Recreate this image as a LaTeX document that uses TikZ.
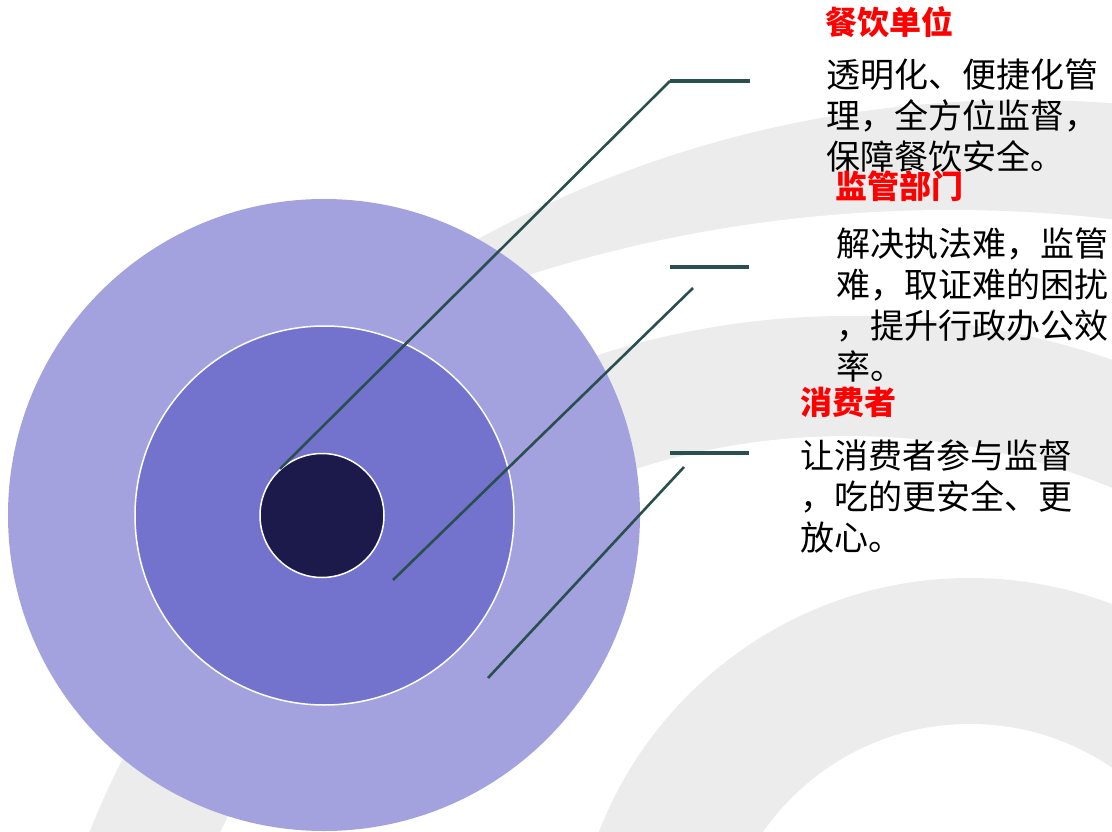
\documentclass[tikz,border=0pt]{standalone}
\usepackage{fontspec}
\newfontfamily\cjk{Noto Sans CJK SC}
\definecolor{band}{RGB}{236,236,236}
\definecolor{ringA}{RGB}{163,162,223}
\definecolor{ringB}{RGB}{115,115,206}
\definecolor{ringC}{RGB}{28,26,75}
\definecolor{leader}{RGB}{41,79,79}
\tikzset{
  bandfill/.style={fill=band},
  blank/.style={fill=white},
  ring/.style={circle, inner sep=0pt},
  leadline/.style={draw=leader, line width=2.6pt},
  leadhoriz/.style={draw=leader, line width=3.5pt},
  title/.style={font=\cjk\bfseries\fontsize{32}{38}\selectfont, text=red, anchor=base west, inner sep=0pt},
  body/.style={font=\cjk\fontsize{34}{41}\selectfont, align=left, anchor=base west, inner sep=0pt}
}
\begin{document}
\begin{tikzpicture}[x=1pt,y=-1pt]
\fill[white] (0,0) rectangle (1112,832);
\useasboundingbox (0,0) rectangle (1112,832);
% background bands
\begin{scope}
\clip (0,0) rectangle (1112,832);
\fill[bandfill] (1024,1240) circle (1140pt);
\fill[blank] (950,1600) circle (1390pt);
\fill[bandfill] (848,1131) circle (815pt);
\fill[blank] (848,1131) circle (695pt);
\fill[bandfill] (970,976) circle (398pt);
\fill[blank] (970,976) circle (252pt);
\end{scope}
% rings
\node[ring, fill=ringA, minimum size=632pt] (outer) at (324,515) {};
\node[ring, fill=ringB, draw=white, line width=1.5pt, minimum size=379pt] (middle) at (324.5,515.5) {};
\node[ring, fill=ringC, draw=white, line width=1.5pt, minimum size=124pt] (core) at (322,515.5) {};
% leader lines
\coordinate (h1a) at (670,81);
\coordinate (h1b) at (750,81);
\coordinate (h2a) at (670,267);
\coordinate (h2b) at (749,267);
\coordinate (h3a) at (670,453);
\coordinate (h3b) at (749,453);
\coordinate (d2s) at (693,288);
\coordinate (d2e) at (393,580);
\coordinate (d3s) at (684,467);
\coordinate (d3e) at (488,678);
\draw[leadline] (core.132) -- (h1a);
\draw[leadhoriz] (h1a) -- (h1b);
\draw[leadhoriz] (h2a) -- (h2b);
\draw[leadline] (d2s) -- (d2e);
\draw[leadhoriz] (h3a) -- (h3b);
\draw[leadline] (d3s) -- (d3e);
% texts (base anchor = baseline of the last line)
\node[title] (t1) at (825,35) {餐饮单位};
\node[body] (b1) at (826,170) {透明化、便捷化管\\理，全方位监督，\\保障餐饮安全。};
\node[title] (t2) at (835,199) {监管部门};
\node[body] (b2) at (836,379) {解决执法难，监管\\难，取证难的困扰\\，提升行政办公效\\率。};
\node[title] (t3) at (800,414) {消费者};
\node[body] (b3) at (800,550) {让消费者参与监督\\，吃的更安全、更\\放心。};
\end{tikzpicture}
\end{document}
